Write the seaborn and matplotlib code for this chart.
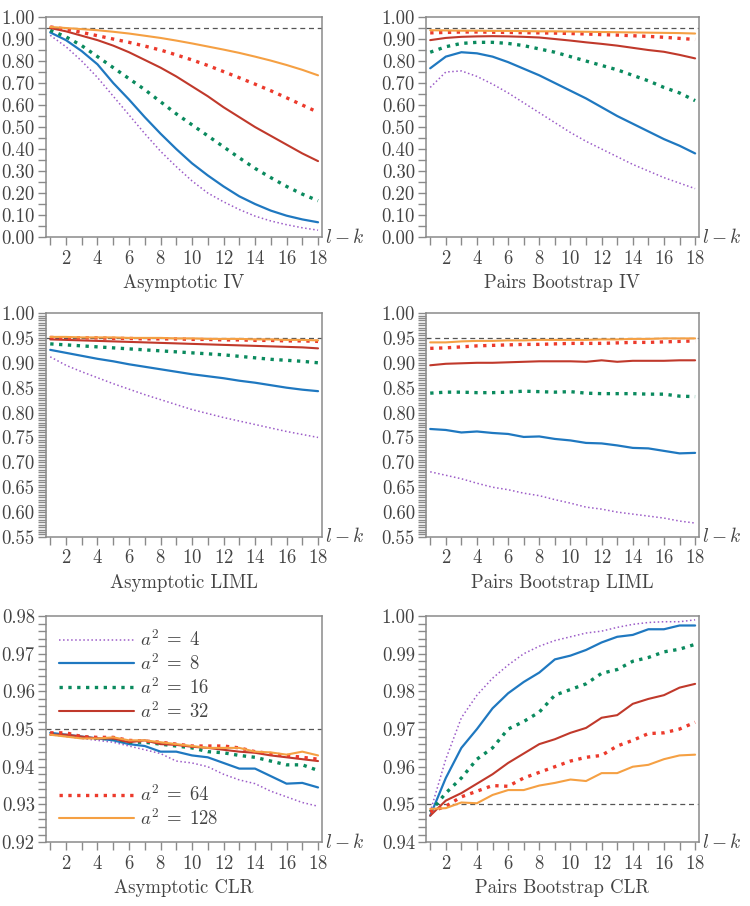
import numpy as np
import pandas as pd
import seaborn as sns
import matplotlib.pyplot as plt
import matplotlib.ticker as ticker

lk = list(range(1, 19))
a2_labels = ["4", "8", "16", "32", "64", "128"]

# coverage rates, one row per a^2 (4, 8, 16, 32, 64, 128)
asym_iv = [
    [0.917, 0.865, 0.800, 0.725, 0.640, 0.555, 0.470, 0.390, 0.320, 0.255, 0.200, 0.160, 0.125, 0.095, 0.073, 0.056, 0.042, 0.031],
    [0.930, 0.895, 0.845, 0.785, 0.700, 0.625, 0.545, 0.470, 0.400, 0.335, 0.280, 0.230, 0.185, 0.150, 0.120, 0.097, 0.080, 0.067],
    [0.940, 0.910, 0.870, 0.820, 0.770, 0.720, 0.670, 0.615, 0.560, 0.510, 0.460, 0.410, 0.360, 0.312, 0.270, 0.230, 0.195, 0.165],
    [0.950, 0.935, 0.915, 0.895, 0.870, 0.840, 0.805, 0.770, 0.730, 0.685, 0.640, 0.590, 0.545, 0.500, 0.460, 0.420, 0.380, 0.345],
    [0.955, 0.945, 0.930, 0.915, 0.900, 0.885, 0.868, 0.850, 0.828, 0.805, 0.780, 0.752, 0.724, 0.695, 0.665, 0.633, 0.600, 0.567],
    [0.955, 0.950, 0.945, 0.940, 0.933, 0.925, 0.915, 0.905, 0.893, 0.880, 0.866, 0.852, 0.837, 0.820, 0.802, 0.782, 0.760, 0.735],
]
boot_iv = [
    [0.680, 0.750, 0.755, 0.730, 0.695, 0.655, 0.610, 0.565, 0.520, 0.475, 0.435, 0.400, 0.365, 0.330, 0.300, 0.270, 0.245, 0.220],
    [0.767, 0.820, 0.840, 0.835, 0.820, 0.795, 0.765, 0.735, 0.700, 0.665, 0.630, 0.590, 0.550, 0.515, 0.480, 0.445, 0.415, 0.380],
    [0.840, 0.865, 0.880, 0.885, 0.885, 0.880, 0.870, 0.855, 0.840, 0.820, 0.800, 0.780, 0.760, 0.735, 0.710, 0.680, 0.655, 0.620],
    [0.895, 0.905, 0.910, 0.912, 0.913, 0.912, 0.910, 0.907, 0.900, 0.893, 0.885, 0.878, 0.870, 0.860, 0.850, 0.842, 0.828, 0.812],
    [0.928, 0.930, 0.932, 0.932, 0.931, 0.930, 0.929, 0.928, 0.927, 0.925, 0.923, 0.920, 0.918, 0.915, 0.912, 0.908, 0.903, 0.898],
    [0.940, 0.939, 0.938, 0.938, 0.937, 0.937, 0.936, 0.935, 0.935, 0.934, 0.933, 0.932, 0.931, 0.930, 0.929, 0.928, 0.927, 0.925],
]
asym_liml = [
    [0.912, 0.895, 0.882, 0.870, 0.858, 0.847, 0.836, 0.826, 0.816, 0.806, 0.798, 0.790, 0.783, 0.776, 0.769, 0.762, 0.756, 0.750],
    [0.926, 0.920, 0.914, 0.908, 0.903, 0.897, 0.892, 0.887, 0.882, 0.877, 0.873, 0.869, 0.864, 0.860, 0.855, 0.850, 0.846, 0.843],
    [0.938, 0.936, 0.934, 0.932, 0.930, 0.928, 0.926, 0.924, 0.922, 0.920, 0.918, 0.916, 0.913, 0.910, 0.907, 0.905, 0.903, 0.900],
    [0.947, 0.946, 0.945, 0.944, 0.943, 0.942, 0.941, 0.940, 0.939, 0.938, 0.937, 0.936, 0.935, 0.934, 0.933, 0.932, 0.931, 0.929],
    [0.951, 0.950, 0.950, 0.950, 0.949, 0.949, 0.948, 0.948, 0.948, 0.947, 0.947, 0.946, 0.946, 0.945, 0.945, 0.944, 0.944, 0.943],
    [0.952, 0.952, 0.951, 0.951, 0.951, 0.950, 0.950, 0.950, 0.949, 0.949, 0.948, 0.948, 0.948, 0.947, 0.947, 0.946, 0.946, 0.945],
]
boot_liml = [
    [0.681, 0.674, 0.667, 0.658, 0.650, 0.645, 0.638, 0.633, 0.625, 0.618, 0.610, 0.606, 0.600, 0.596, 0.592, 0.588, 0.582, 0.578],
    [0.767, 0.765, 0.760, 0.762, 0.759, 0.757, 0.751, 0.752, 0.747, 0.744, 0.739, 0.738, 0.734, 0.729, 0.728, 0.723, 0.718, 0.719],
    [0.839, 0.841, 0.841, 0.840, 0.840, 0.841, 0.843, 0.842, 0.841, 0.842, 0.839, 0.838, 0.838, 0.838, 0.837, 0.837, 0.833, 0.832],
    [0.895, 0.898, 0.899, 0.900, 0.900, 0.901, 0.902, 0.903, 0.903, 0.903, 0.902, 0.905, 0.902, 0.904, 0.904, 0.904, 0.905, 0.905],
    [0.929, 0.930, 0.932, 0.934, 0.935, 0.936, 0.937, 0.937, 0.938, 0.939, 0.939, 0.939, 0.940, 0.941, 0.941, 0.942, 0.943, 0.944],
    [0.941, 0.941, 0.943, 0.944, 0.944, 0.945, 0.945, 0.946, 0.946, 0.946, 0.946, 0.947, 0.947, 0.948, 0.948, 0.949, 0.949, 0.949],
]
asym_clr = [
    [0.9485, 0.9480, 0.9475, 0.9470, 0.9465, 0.9455, 0.9445, 0.9435, 0.9415, 0.9410, 0.9400, 0.9380, 0.9365, 0.9355, 0.9335, 0.9320, 0.9305, 0.9295],
    [0.9490, 0.9485, 0.9480, 0.9475, 0.9470, 0.9460, 0.9455, 0.9440, 0.9440, 0.9430, 0.9425, 0.9410, 0.9395, 0.9395, 0.9375, 0.9355, 0.9357, 0.9345],
    [0.9488, 0.9485, 0.9480, 0.9475, 0.9475, 0.9465, 0.9465, 0.9460, 0.9455, 0.9450, 0.9440, 0.9437, 0.9430, 0.9425, 0.9415, 0.9405, 0.9405, 0.9390],
    [0.9485, 0.9485, 0.9480, 0.9475, 0.9475, 0.9465, 0.9470, 0.9460, 0.9458, 0.9453, 0.9450, 0.9445, 0.9440, 0.9437, 0.9430, 0.9425, 0.9420, 0.9415],
    [0.9490, 0.9490, 0.9480, 0.9478, 0.9478, 0.9470, 0.9468, 0.9465, 0.9460, 0.9455, 0.9455, 0.9455, 0.9450, 0.9440, 0.9435, 0.9430, 0.9425, 0.9420],
    [0.9485, 0.9480, 0.9475, 0.9475, 0.9478, 0.9470, 0.9470, 0.9465, 0.9460, 0.9455, 0.9450, 0.9450, 0.9450, 0.9440, 0.9438, 0.9432, 0.9440, 0.9430],
]
boot_clr = [
    [0.9480, 0.9620, 0.9730, 0.9790, 0.9835, 0.9870, 0.9900, 0.9920, 0.9935, 0.9945, 0.9955, 0.9960, 0.9970, 0.9978, 0.9983, 0.9985, 0.9985, 0.9990],
    [0.9470, 0.9570, 0.9650, 0.9700, 0.9755, 0.9795, 0.9825, 0.9850, 0.9885, 0.9895, 0.9910, 0.9930, 0.9945, 0.9950, 0.9965, 0.9965, 0.9975, 0.9975],
    [0.9480, 0.9530, 0.9570, 0.9620, 0.9650, 0.9700, 0.9720, 0.9745, 0.9790, 0.9805, 0.9820, 0.9848, 0.9858, 0.9880, 0.9890, 0.9905, 0.9912, 0.9925],
    [0.9470, 0.9510, 0.9530, 0.9555, 0.9580, 0.9610, 0.9635, 0.9660, 0.9673, 0.9690, 0.9703, 0.9730, 0.9737, 0.9767, 0.9780, 0.9790, 0.9810, 0.9820],
    [0.9480, 0.9495, 0.9520, 0.9535, 0.9550, 0.9548, 0.9570, 0.9585, 0.9600, 0.9615, 0.9625, 0.9630, 0.9655, 0.9670, 0.9688, 0.9690, 0.9700, 0.9718],
    [0.9488, 0.9490, 0.9505, 0.9503, 0.9525, 0.9538, 0.9538, 0.9550, 0.9557, 0.9566, 0.9562, 0.9583, 0.9583, 0.9600, 0.9605, 0.9620, 0.9630, 0.9632],
]

colors = ["#9c5cc8", "#1f78c0", "#0a8a5e", "#c0392b", "#ec3a2c", "#f5a043"]
styles = [":", "-", ":", "-", ":", "-"]
widths = [1.1, 1.6, 2.4, 1.5, 2.4, 1.5]

panels = [
    (asym_iv, "Asymptotic IV", (0.0, 1.0), 0.10, 0.05),
    (boot_iv, "Pairs Bootstrap IV", (0.0, 1.0), 0.10, 0.05),
    (asym_liml, "Asymptotic LIML", (0.55, 1.0), 0.05, 0.005),
    (boot_liml, "Pairs Bootstrap LIML", (0.55, 1.0), 0.05, 0.005),
    (asym_clr, "Asymptotic CLR", (0.92, 0.98), 0.01, 0.002),
    (boot_clr, "Pairs Bootstrap CLR", (0.94, 1.0), 0.01, 0.002),
]

sns.set_style("white")
plt.rcParams["font.family"] = ["cmr10", "DejaVu Serif"]
plt.rcParams["mathtext.fontset"] = "cm"
plt.rcParams["axes.unicode_minus"] = False
plt.rcParams["axes.formatter.use_mathtext"] = True

fig = plt.figure(figsize=(7.5, 9.06), dpi=100)
lefts = [0.0613, 0.568]
widths_ax = [0.368, 0.364]
bottoms = [0.7384, 0.4073, 0.0706]
heights = [0.2428, 0.2472, 0.2494]

txt_col = "#444444"
frame_col = "#8a8a8a"

for i, (vals, title, ylim, major, minor) in enumerate(panels):
    r, c = divmod(i, 2)
    ax = fig.add_axes([lefts[c], bottoms[r], widths_ax[c], heights[r]])
    ax.axhline(0.95, color="#555555", lw=0.9, dashes=(4, 3), zorder=1)
    for k in range(6):
        sns.lineplot(x=lk, y=vals[k], ax=ax, color=colors[k], lw=widths[k],
                     linestyle=styles[k], label=r"$a^2\;=\;%s$" % a2_labels[k])
    ax.set_xlim(0.73, 18.25)
    ax.set_ylim(*ylim)
    ax.xaxis.set_major_locator(ticker.MultipleLocator(2))
    ax.xaxis.set_minor_locator(ticker.MultipleLocator(1))
    ax.yaxis.set_major_locator(ticker.MultipleLocator(major))
    ax.yaxis.set_minor_locator(ticker.MultipleLocator(minor))
    ax.yaxis.set_major_formatter(ticker.FormatStrFormatter("%.2f"))
    ax.tick_params(axis="both", which="both", direction="out", color=frame_col,
                   labelcolor=txt_col, labelsize=13.5, length=6, width=1)
    ax.tick_params(axis="y", which="both", pad=2, left=True)
    ax.tick_params(axis="x", which="both", pad=3, bottom=True)
    for sp in ax.spines.values():
        sp.set_color(frame_col)
        sp.set_linewidth(1.1)
    ax.set_xlabel(title, fontsize=13.5, color=txt_col, labelpad=5)
    ax.set_ylabel("")
    ax.text(1.012, 0.0, "$l - k$", transform=ax.transAxes, ha="left", va="center",
            fontsize=14, color=txt_col)
    leg = ax.get_legend()
    if leg is not None:
        leg.remove()
    if i == 4:
        h, l = ax.get_legend_handles_labels()
        leg1 = ax.legend(h[:4], l[:4], loc="upper left", bbox_to_anchor=(0.0, 1.0),
                         frameon=False, fontsize=13.5, handlelength=4.0,
                         handletextpad=0.3, labelspacing=0.15, borderaxespad=0.3)
        for t in leg1.get_texts():
            t.set_color(txt_col)
        ax.add_artist(leg1)
        leg2 = ax.legend(h[4:], l[4:], loc="lower left", bbox_to_anchor=(0.0, 0.0),
                         frameon=False, fontsize=13.5, handlelength=4.0,
                         handletextpad=0.3, labelspacing=0.15, borderaxespad=0.3)
        for t in leg2.get_texts():
            t.set_color(txt_col)

fig.savefig("out.png", dpi=100)
